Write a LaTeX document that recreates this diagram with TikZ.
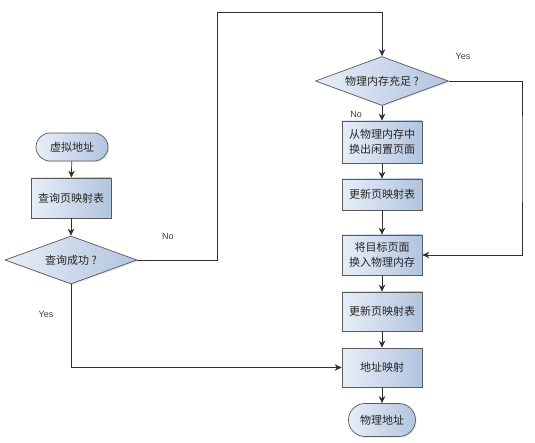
\documentclass[tikz,border=0pt]{standalone}
\usepackage{fontspec}
\setmainfont{Liberation Sans}
\newfontfamily\cjk{Noto Sans CJK SC}
\usetikzlibrary{shapes.geometric,arrows.meta,shadows}
\definecolor{fillA}{HTML}{E8EEF8}
\definecolor{fillB}{HTML}{B2C4DE}
\definecolor{edgeC}{HTML}{5A5A5A}
\definecolor{lineC}{HTML}{303030}
\tikzset{
  base/.style={draw=edgeC, line width=0.7pt, left color=fillA, right color=fillB,
    font=\cjk\fontsize{11}{15}\selectfont, text=black!85, align=center, inner sep=0pt,
    drop shadow={opacity=0.2, shadow xshift=1.2pt, shadow yshift=-1.2pt}},
  procbox/.style={base, rectangle, minimum width=80pt, minimum height=40pt},
  termbox/.style={base, rectangle, rounded corners=14pt},
  decbox/.style={base, diamond, aspect=2.75},
  conn/.style={draw=lineC, line width=0.7pt, -{Stealth[length=7pt,width=6.5pt]}},
  lbl/.style={font=\fontsize{9}{11}\selectfont, text=black!75}
}
\begin{document}
\begin{tikzpicture}[x=1pt,y=-1pt]
\useasboundingbox (0,0) rectangle (535,443);
% left column
\node[termbox, minimum width=72pt, minimum height=28pt] (v) at (72,147) {虚拟地址};
\node[procbox] (q) at (71,198) {查询页映射表};
\node[decbox, minimum width=132pt, minimum height=48pt] (d1) at (71,260) {查询成功 ?};
% right column
\node[decbox, minimum width=133pt, minimum height=49pt] (d2) at (382,81) {物理内存充足 ?};
\node[procbox, minimum height=42pt] (s1) at (382,142) {从物理内存中\\换出闲置页面};
\node[procbox, minimum height=31pt] (s2) at (382,194.5) {更新页映射表};
\node[procbox] (s3) at (382,255) {将目标页面\\换入物理内存};
\node[procbox, minimum height=39pt] (s4) at (382,311.5) {更新页映射表};
\node[procbox, minimum height=39pt] (m) at (382,367.5) {地址映射};
\node[termbox, minimum width=67pt, minimum height=33pt, rounded corners=16.5pt] (p) at (382,420) {物理地址};
% helper coordinates
\coordinate (c1) at (217,12);
\coordinate (c2) at (522,150);
% connectors
\draw[conn] (v) -- (q);
\draw[conn] (q) -- (d1);
\draw[conn] (d1.east) -| (c1) -| (d2.north);
\draw[conn] (d2) -- (s1);
\draw[conn] (s1) -- (s2);
\draw[conn] (s2) -- (s3);
\draw[conn] (s3) -- (s4);
\draw[conn] (s4) -- (m);
\draw[conn] (m) -- (p);
\draw[conn] (d2.east) -| (c2) |- (s3.east);
\draw[conn] (d1.south) |- (m.west);
% labels
\node[lbl] (l1) at (168,236) {No};
\node[lbl] (l2) at (463,56) {Yes};
\node[lbl] (l3) at (356,114) {No};
\node[lbl] (l4) at (46,314) {Yes};
\end{tikzpicture}
\end{document}
